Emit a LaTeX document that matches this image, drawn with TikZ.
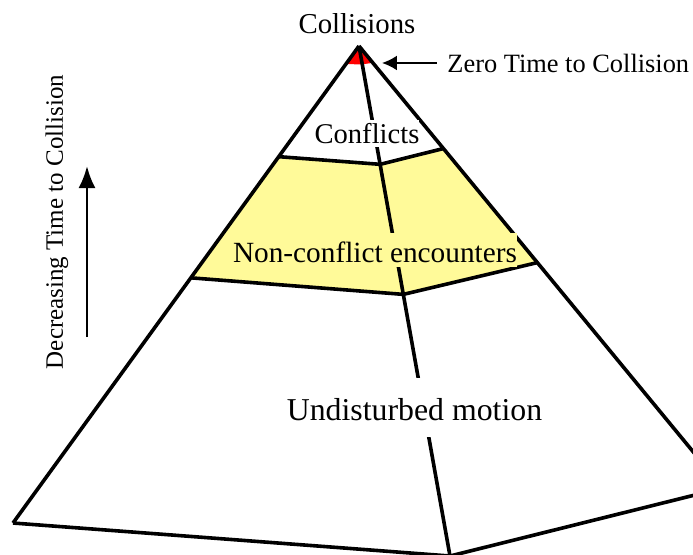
\documentclass[tikz,border=0pt]{standalone}
\usepackage{fontspec}
\setmainfont{Liberation Serif}
\usetikzlibrary{calc,arrows.meta}

\begin{document}
\begin{tikzpicture}[x=0.5pt,y=-0.5pt,
  rib/.style={line width=1.8pt},
  every edge/.style={draw,rib},
  tag/.style={inner sep=0pt,anchor=base},
  pointer/.style={line width=1pt,-{Latex[length=7.5pt,width=7.5pt]}},
  riser/.style={line width=1.35pt,-{Latex[length=11pt,width=8.5pt]}}]
\useasboundingbox (0,0) rectangle (693,554);
\clip (0,0) rectangle (693,554);
% corners of the pyramid
\coordinate (A) at (359,46);
\coordinate (L) at (13,523);
\coordinate (F) at (450,556);
\coordinate (R) at (723,488);
% layer boundaries
\coordinate (L0) at ($(A)!0.038!(L)$);
\coordinate (F0) at ($(A)!0.036!(F)$);
\coordinate (R0) at ($(A)!0.038!(R)$);
\coordinate (L1) at ($(A)!0.232!(L)$);
\coordinate (F1) at ($(A)!0.232!(F)$);
\coordinate (R1) at ($(A)!0.232!(R)$);
\coordinate (L2) at ($(A)!0.486!(L)$);
\coordinate (F2) at ($(A)!0.487!(F)$);
\coordinate (R2) at ($(A)!0.490!(R)$);
\fill[red] (A) -- (L0) -- (F0) -- (R0) -- cycle;
\fill[yellow!40] (L1) -- (F1) -- (R1) -- (R2) -- (F2) -- (L2) -- cycle;
\path
(A) edge (L)
    edge (F)
    edge (R)
(L) edge (F)
(F) edge (R);
\draw[rib] (L1) -- (F1) -- (R1);
\draw[rib] (L2) -- (F2) -- (R2);
% labels
\node[tag, font=\fontsize{14.4}{17}\selectfont] (collisions) at (357,33) {Collisions};
\node[tag, anchor=base west, font=\fontsize{13.2}{16}\selectfont] (zero) at (447,72) {Zero Time to Collision};
\coordinate (tip) at (382,62);
\draw[pointer, shorten <=5pt] (zero.west) -- (zero.west -| tip);
\node[tag, fill=white, text height=11.5pt, text depth=2pt, font=\fontsize{14.3}{17}\selectfont] (conflicts) at (367,143) {Conflicts};
\node[tag, fill=yellow!40, text height=14.5pt, text depth=2.5pt, font=\fontsize{14.65}{17}\selectfont] (encounters) at (375,262) {Non-conflict encounters};
\node[tag, fill=white, text height=21pt, text depth=8.5pt, font=\fontsize{15.9}{19}\selectfont] (undisturbed) at (414.5,420) {Undisturbed motion};
\node[rotate=90, inner sep=0pt, font=\fontsize{12.5}{15}\selectfont] (decreasing) at (57,222) {Decreasing Time to Collision};
\coordinate (upfoot) at (87,337);
\coordinate (uphead) at (87,166);
\draw[riser] (upfoot) -- (uphead);
\end{tikzpicture}
\end{document}
